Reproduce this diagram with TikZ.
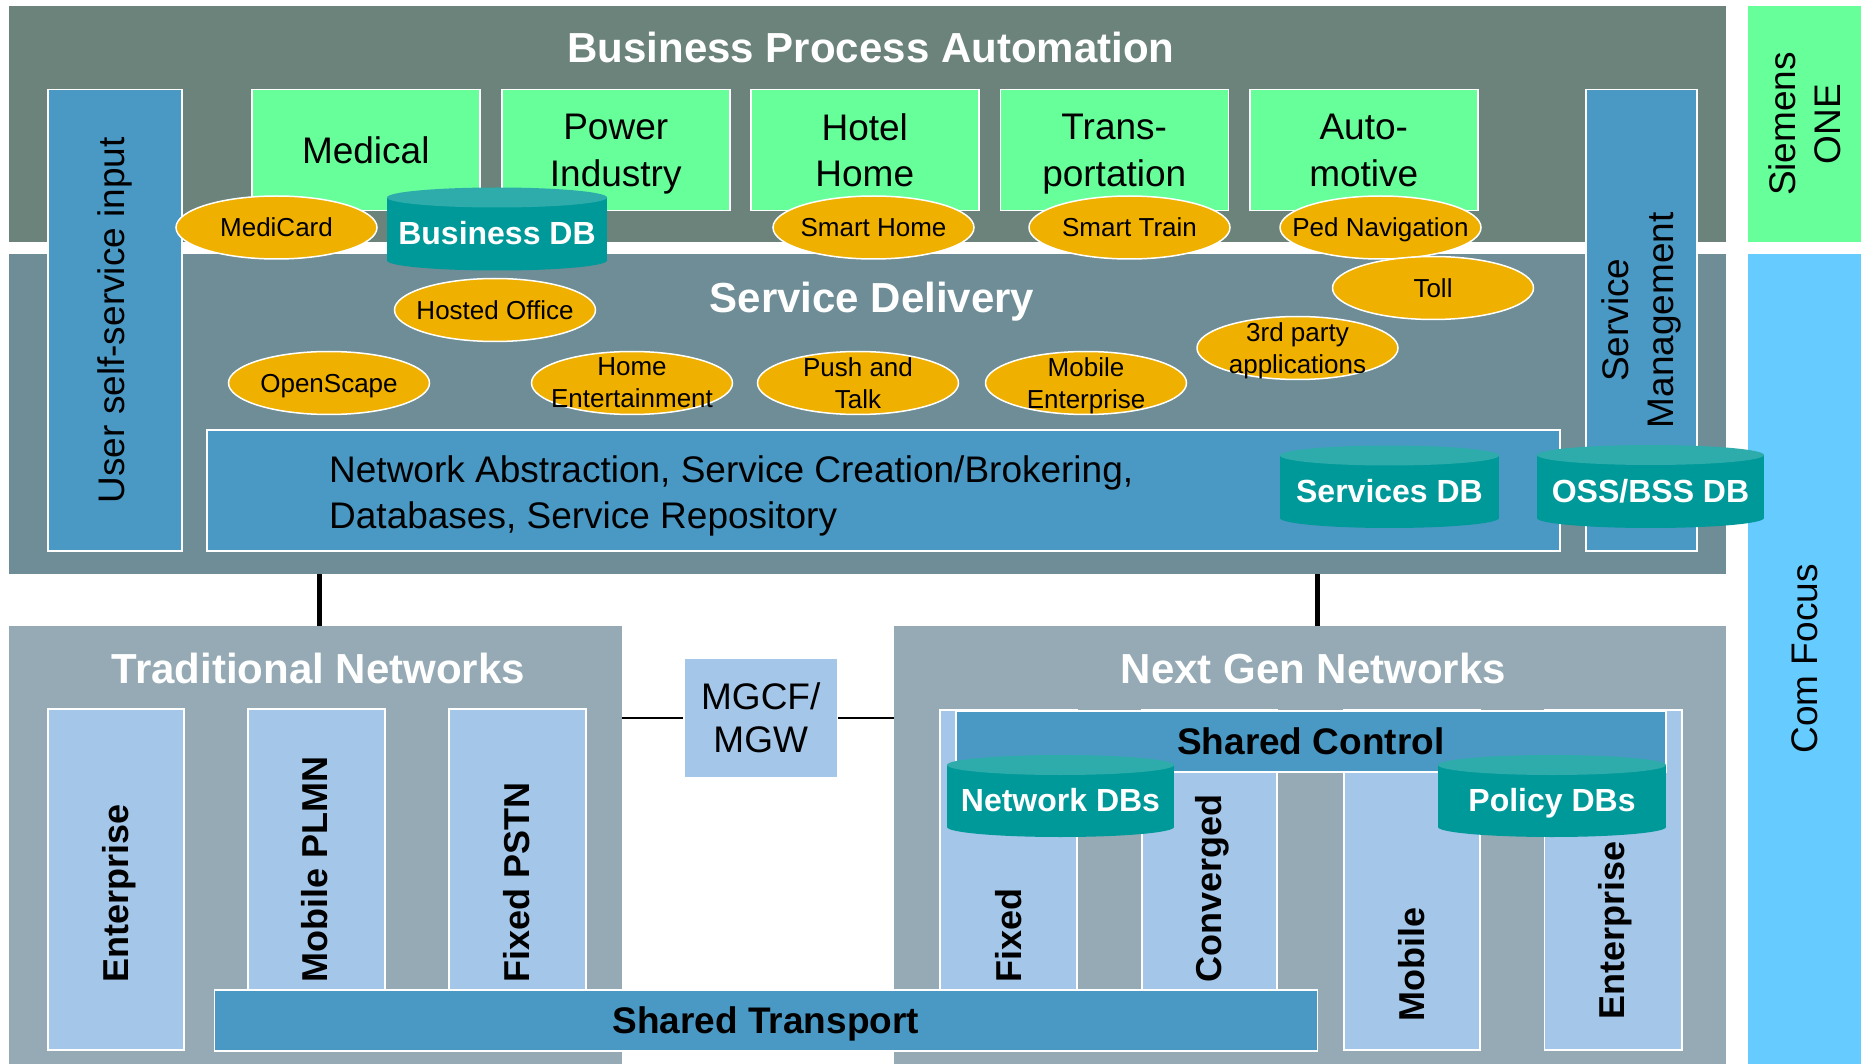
\documentclass[tikz,border=0pt]{standalone}
\usepackage{fontspec}
\setmainfont{Liberation Sans}
\usetikzlibrary{shapes.geometric}

\definecolor{bpagray}{HTML}{6B837A}
\definecolor{sdgray}{HTML}{6E8D96}
\definecolor{netgray}{HTML}{95AAB4}
\definecolor{midblue}{HTML}{4A98C4}
\definecolor{paleblue}{HTML}{A4C6E8}
\definecolor{leafgreen}{HTML}{66FF99}
\definecolor{skyblue}{HTML}{66CCFF}
\definecolor{amber}{HTML}{F0B000}
\definecolor{dbteal}{HTML}{009999}
\definecolor{dbtop}{HTML}{2EABAB}

\newcommand{\fsz}[2]{\fontsize{#1}{#2}\selectfont}

\begin{document}
\begin{tikzpicture}[x=1pt,y=-1pt,
  plate/.style={fill=#1, anchor=north west, inner sep=0pt},
  tile/.style={draw=white, line width=1.5pt, fill=#1, anchor=north west, inner sep=0pt, align=center},
  blob/.style={ellipse, draw=white, line width=1.5pt, fill=amber, minimum width=201pt, minimum height=63pt,
    inner xsep=-20pt, inner ysep=-14pt, align=center, text depth=0pt, font=\fsz{26}{32}},
  headline/.style={text=white, font=\bfseries\fsz{42}{50}, anchor=base},
  bigtxt/.style={font=\fsz{37}{46.5}},
  sidetxt/.style={rotate=90, font=\fsz{37}{44.5}, align=center},
  colname/.style={rotate=90, anchor=base west, inner sep=0pt, font=\bfseries\fsz{36}{40}},
  dbname/.style={text=white, text depth=0pt, font=\bfseries\fsz{32}{38}},
  link/.style={line width=5pt},
  wire/.style={line width=2.5pt}]

\useasboundingbox (0,0) rectangle (1861,1064);

% bands
\node[plate=bpagray, minimum width=1716.5, minimum height=235.5] (bpa) at (9,6) {};
\node[plate=sdgray, minimum width=1716.5, minimum height=320.5] (sdl) at (9,253.5) {};
\node[plate=leafgreen, minimum width=113, minimum height=235.5] (one) at (1748,6) {};
\node[plate=skyblue, minimum width=113, minimum height=810.5] (comfocus) at (1748,253.5) {};
\node[plate=netgray, minimum width=612.7, minimum height=438] (trad) at (9,626) {};
\node[plate=netgray, minimum width=832, minimum height=438] (ngn) at (894,626) {};

\node[sidetxt] (onetxt) at (one.center) {Siemens\\ONE};
\node[sidetxt] (comfocustxt) at (comfocus.center) {Com Focus};

\node[headline] (bpatitle) at (871,63) {Business Process Automation};
\node[headline] (sdtitle) at (872,313) {Service Delivery};
\node[headline] (tradtitle) at (318.5,683) {Traditional Networks};
\node[headline] (ngntitle) at (1313.5,683) {Next Gen Networks};

% side boxes
\node[tile=midblue, minimum width=133.6, minimum height=461] (usi) at (47.4,89) {};
\node[sidetxt] (usitxt) at (usi.center) {User self-service input};
\node[tile=midblue, minimum width=111, minimum height=461] (smg) at (1585,89) {};
\node[sidetxt] (smgtxt) at (smg.center) {Service\\Management};

% industries
\node[tile=leafgreen, bigtxt, text depth=0pt, minimum width=228, minimum height=121] (medical) at (251,89) {Medical};
\node[tile=leafgreen, bigtxt, text depth=0pt, minimum width=228, minimum height=121] (power) at (501,89) {Power\\Industry};
\node[tile=leafgreen, bigtxt, text depth=0pt, minimum width=228, minimum height=121] (hotel) at (750,89) {Hotel\\Home};
\node[tile=leafgreen, bigtxt, text depth=0pt, minimum width=228, minimum height=121] (transport) at (999.5,89) {Trans-\\portation};
\node[tile=leafgreen, bigtxt, text depth=0pt, minimum width=228, minimum height=121] (auto) at (1249,89) {Auto-\\motive};

\node[tile=midblue, minimum width=1353, minimum height=120.5] (nabs) at (206,429.5) {};
\node[bigtxt, anchor=west, align=left, inner sep=0pt, text depth=0pt] (nabstxt) at (329,492)
  {Network Abstraction, Service Creation/Brokering,\\Databases, Service Repository};

% services
\node[blob] (medicard) at (276.5,227.5) {MediCard};
\node[blob] (smarthome) at (873.5,227.5) {Smart Home};
\node[blob] (smarttrain) at (1129.5,227.5) {Smart Train};
\node[blob] (pednav) at (1380.5,227.5) {Ped Navigation};
\node[blob] (toll) at (1433,288) {Toll};
\node[blob] (thirdparty) at (1297.5,348) {3rd party\\applications};
\node[blob] (hosted) at (495,310) {Hosted Office};
\node[blob] (openscape) at (329,383) {OpenScape};
\node[blob] (homeent) at (632,383) {Home\\Entertainment};
\node[blob] (ptt) at (858,383) {Push and\\Talk};
\node[blob] (mobent) at (1086,383) {Mobile\\Enterprise};

\foreach \cx/\rx/\yt/\yb in {497/110/197.5/260.5, 1389.5/109.5/455.5/518, 1650.5/113.5/455/518}
{
  \fill[dbteal] (\cx-\rx,\yt) rectangle (\cx+\rx,\yb);
  \fill[dbteal] (\cx,\yb) ellipse [x radius=\rx, y radius=10];
  \fill[dbtop] (\cx,\yt) ellipse [x radius=\rx, y radius=10];
}
\node[dbname] (bizdb) at (497,233) {Business DB};
\node[dbname] (svcdb) at (1389.5,491) {Services DB};
\node[dbname] (ossdb) at (1650.5,491) {OSS/BSS DB};

% networks
\node[tile=paleblue, minimum width=136, minimum height=341] (tent) at (47,708) {};
\node[tile=paleblue, minimum width=137, minimum height=341] (tmob) at (247,708) {};
\node[tile=paleblue, minimum width=137, minimum height=341] (tfix) at (448,708) {};
\node[colname] (tenttxt) at (128.8,983) {Enterprise};
\node[colname] (tmobtxt) at (327.8,983) {Mobile PLMN};
\node[colname] (tfixtxt) at (529.8,983) {Fixed PSTN};

\node[tile=paleblue, minimum width=137, minimum height=340] (nfix) at (939,709) {};
\node[tile=paleblue, minimum width=135, minimum height=340] (nconv) at (1141,709) {};
\node[tile=paleblue, minimum width=136, minimum height=340] (nmob) at (1343,709) {};
\node[tile=paleblue, minimum width=137.5, minimum height=340] (nent) at (1543.5,709) {};
\node[colname] (nfixtxt) at (1021.3,983) {Fixed};
\node[colname] (nconvtxt) at (1221.6,983) {Converged};
\node[colname] (nmobtxt) at (1424.7,1021.7) {Mobile};
\node[colname] (nenttxt) at (1624.7,1020) {Enterprise};

\node[tile=midblue, font=\bfseries\fsz{37}{44}, minimum width=710, minimum height=61] (sctrl) at (955,710) {Shared Control};

\foreach \cx/\rx/\yt/\yb in {1060.5/113.5/765/827, 1552/114/765/827}
{
  \fill[dbteal] (\cx-\rx,\yt) rectangle (\cx+\rx,\yb);
  \fill[dbteal] (\cx,\yb) ellipse [x radius=\rx, y radius=10];
  \fill[dbtop] (\cx,\yt) ellipse [x radius=\rx, y radius=10];
}
\node[dbname] (netdb) at (1060.5,800) {Network DBs};
\node[dbname] (poldb) at (1552,800) {Policy DBs};

\node[tile=midblue, font=\bfseries\fsz{37}{44}, text depth=0pt, minimum width=1103, minimum height=61] (stransp) at (213.5,989) {Shared Transport};

\node[tile=paleblue, font=\fsz{37}{43}, minimum width=153.4, minimum height=119.4] (mgcf) at (683.3,657.3) {MGCF/\\MGW};

% links
\coordinate (tradjoin) at (319,626);
\coordinate (ngnjoin) at (1317,626);
\draw[link] (sdl.south -| tradjoin) -- (tradjoin);
\draw[link] (sdl.south -| ngnjoin) -- (ngnjoin);
\draw[wire] (trad.east |- mgcf.west) -- (mgcf.west);
\draw[wire] (mgcf.east) -- (ngn.west |- mgcf.east);

\end{tikzpicture}
\end{document}
